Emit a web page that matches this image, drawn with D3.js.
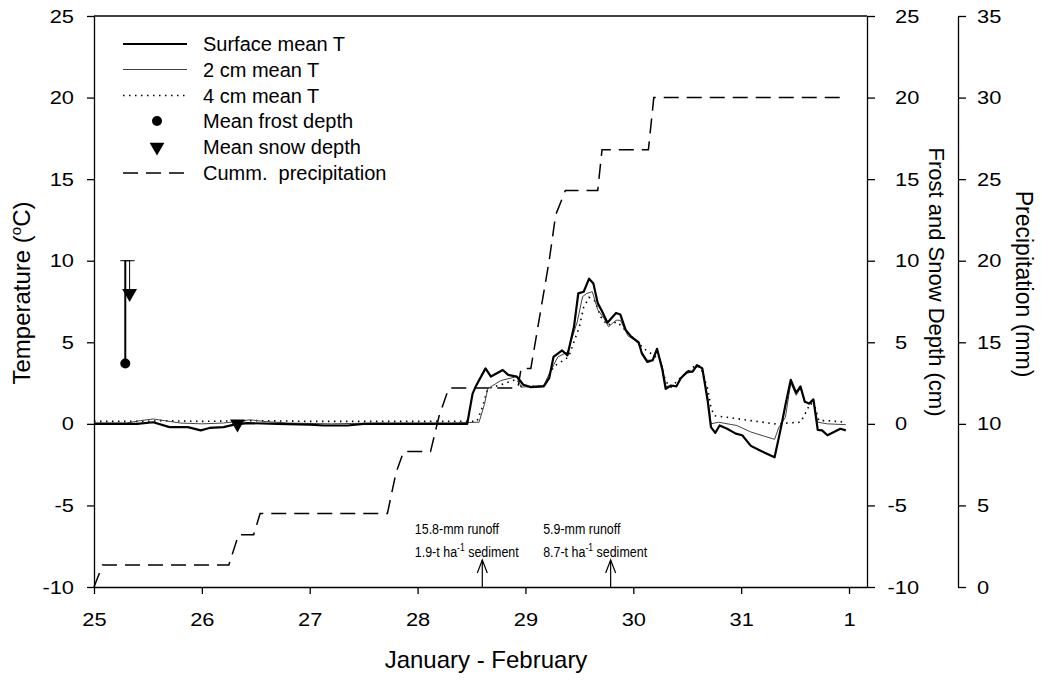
<!DOCTYPE html>
<html>
<head>
<meta charset="utf-8">
<script src="https://cdn.jsdelivr.net/npm/d3@7"></script>
<style>
  body { margin: 0; background: #fff; }
  svg { display: block; }
  text { font-family: Arial, "Liberation Sans", Helvetica, sans-serif; fill: #000; }
</style>
</head>
<body>
<svg id="chart" width="1041" height="688"></svg>
<script>
// Time is expressed as fractional day-of-January (32 = 1 February).
const dayTicks = [25, 26, 27, 28, 29, 30, 31, 32];
const dayTickLabels = ["25", "26", "27", "28", "29", "30", "31", "1"];
const tempTicks = [-10, -5, 0, 5, 10, 15, 20, 25];
const depthTicks = [-10, -5, 0, 5, 10, 15, 20, 25];
const precipTicks = [0, 5, 10, 15, 20, 25, 30, 35];

// Surface mean temperature (°C)
const surfaceDay = [25.00, 25.20, 25.40, 25.55, 25.70, 25.87, 25.99, 26.07, 26.20, 26.30, 26.42, 26.70, 27.00, 27.13, 27.35, 27.50, 27.80, 28.10, 28.46,
  28.51, 28.54, 28.63, 28.68, 28.79, 28.84, 28.92, 28.98, 29.05, 29.17, 29.22, 29.26, 29.34, 29.39, 29.45, 29.49, 29.54, 29.59, 29.63, 29.67,
  29.71, 29.76, 29.84, 29.88, 29.93, 29.98, 30.05, 30.08, 30.13, 30.18, 30.22, 30.27, 30.30, 30.35, 30.40, 30.44, 30.50, 30.55, 30.59, 30.64,
  30.69, 30.72, 30.76, 30.80, 30.87, 30.95, 31.01, 31.09, 31.18, 31.31, 31.37, 31.41, 31.46, 31.51, 31.55, 31.59, 31.63, 31.67, 31.71, 31.75,
  31.80, 31.86, 31.92, 31.97];
const surfaceT = [0.0, 0.0, 0.0, 0.1, -0.2, -0.2, -0.4, -0.25, -0.2, -0.05, 0.05, 0.0, -0.05, -0.1, -0.1, 0.0, 0.0, 0.0, 0.0,
  1.85, 2.3, 3.4, 2.9, 3.3, 3.0, 2.9, 2.4, 2.25, 2.3, 2.8, 4.1, 4.5, 4.2, 5.95, 8.0, 8.1, 8.9, 8.6, 7.4,
  6.9, 6.2, 6.8, 6.7, 5.75, 5.35, 5.0, 4.3, 3.8, 3.9, 4.6, 3.3, 2.15, 2.35, 2.3, 2.8, 3.2, 3.2, 3.6, 3.4,
  1.4, -0.2, -0.55, -0.1, -0.3, -0.6, -0.7, -1.35, -1.65, -2.05, -0.2, 1.15, 2.7, 1.9, 2.3, 1.35, 1.25, 1.5, -0.37, -0.4,
  -0.7, -0.5, -0.3, -0.4];

// 2 cm mean temperature (°C)
const twoCmDay = [25.00, 25.30, 25.43, 25.55, 25.65, 25.80, 26.00, 26.20, 26.45, 26.57, 26.80, 27.20, 27.60, 28.00, 28.30, 28.57,
  28.62, 28.65, 28.77, 28.92, 28.96, 29.17, 29.23, 29.30, 29.39, 29.48, 29.53, 29.57, 29.62, 29.67, 29.73, 29.77, 29.84, 29.88,
  29.95, 30.04, 30.08, 30.13, 30.18, 30.22, 30.27, 30.30, 30.35, 30.40, 30.44, 30.50, 30.55, 30.59, 30.64, 30.69, 30.72, 30.79,
  30.96, 31.09, 31.31, 31.35, 31.41, 31.46, 31.51, 31.55, 31.59, 31.63, 31.67, 31.71, 31.80, 31.97];
const twoCmT = [0.05, 0.05, 0.2, 0.3, 0.2, 0.05, 0.0, 0.05, 0.25, 0.15, 0.05, 0.0, 0.05, 0.05, 0.05, 0.1,
  1.2, 2.15, 2.65, 2.9, 2.25, 2.35, 3.2, 4.1, 4.4, 6.25, 7.8, 8.0, 8.1, 7.0, 6.45, 5.95, 6.35, 6.35,
  5.4, 5.0, 4.4, 3.9, 3.9, 4.5, 3.5, 2.3, 2.3, 2.3, 2.8, 3.1, 3.2, 3.5, 3.4, 1.6, 0.0, 0.1,
  -0.1, -0.5, -0.95, -0.2, 0.4, 2.5, 1.75, 2.2, 1.4, 1.2, 1.4, 0.1, 0.0, -0.05];

// 4 cm mean temperature (°C)
const fourCmDay = [25.00, 25.50, 25.60, 26.00, 26.50, 27.00, 27.50, 28.00, 28.55, 28.60, 28.65, 28.80, 28.92, 28.96, 29.17, 29.26,
  29.40, 29.50, 29.54, 29.59, 29.64, 29.70, 29.76, 29.85, 29.91, 30.04, 30.10, 30.19, 30.25, 30.30, 30.35, 30.44, 30.56, 30.62,
  30.69, 30.72, 30.75, 30.87, 31.09, 31.31, 31.43, 31.55, 31.60, 31.64, 31.68, 31.72, 31.80, 31.97];
const fourCmT = [0.15, 0.15, 0.2, 0.15, 0.2, 0.15, 0.15, 0.15, 0.15, 1.0, 2.15, 2.45, 2.75, 2.3, 2.3, 3.5,
  4.1, 5.95, 7.15, 7.75, 7.55, 6.55, 6.05, 6.25, 5.85, 5.0, 4.6, 4.2, 3.9, 2.6, 2.25, 2.85, 3.5, 3.55,
  2.15, 1.0, 0.5, 0.4, 0.2, 0.0, 0.05, 0.1, 0.7, 1.25, 1.15, 0.2, 0.2, 0.1];

// Cumulative precipitation (mm)
const precipDay = [25.00, 25.08, 26.25, 26.34, 26.48, 26.54, 27.72, 27.80, 27.87, 28.12, 28.20, 28.29, 28.93, 28.96, 29.05,
  29.22, 29.28, 29.37, 29.67, 29.71, 30.14, 30.19, 31.93];
const precipMm = [0, 1.35, 1.35, 3.2, 3.2, 4.5, 4.5, 7.0, 8.3, 8.3, 10.5, 12.2, 12.2, 13.4, 13.4,
  20.0, 22.8, 24.3, 24.3, 26.8, 26.8, 30.0, 30.0];

// Frost and snow depth (cm) with upper error bars
const frostDay = [25.29];
const frostDepth = [3.7];
const frostErr = [6.3];
const snowDay = [25.33, 26.33];
const snowDepth = [8.0, 0.0];
const snowErr = [2.0, 0.0];

// Runoff events
const eventDay = [28.60, 29.79];
const eventRunoff = ["15.8-mm runoff", "5.9-mm runoff"];
const eventSediment = ["1.9", "8.7"];

const legendLabels = ["Surface mean T", "2 cm mean T", "4 cm mean T", "Mean frost depth", "Mean snow depth", "Cumm.  precipitation"];

// ---------------------------------------------------------------
(function draw() {
  const svg = d3.select("#chart");
  const pLeft = 94, pRight = 867, pTop = 16, pBottom = 587;

  const x = d3.scaleLinear().domain([25, 32.1667]).range([pLeft, pRight]);
  const yT = d3.scaleLinear().domain([-10, 25]).range([pBottom, pTop]);
  const yD = d3.scaleLinear().domain([-10, 25]).range([pBottom, pTop]);
  const yP = d3.scaleLinear().domain([0, 35]).range([pBottom, pTop]);

  const axisStroke = 1.3;
  const tickFont = 19;
  const tickStretch = 1.15;
  const plain = d => String(d);   // hyphen-minus for negatives

  function styleAxis(g) {
    g.select(".domain").attr("stroke", "#000").attr("stroke-width", axisStroke);
    g.selectAll(".tick line").attr("stroke", "#000").attr("stroke-width", axisStroke);
    g.selectAll(".tick text").attr("font-size", tickFont).attr("font-family", "Arial, 'Liberation Sans', sans-serif");
  }

  // Bottom axis
  const gx = svg.append("g").attr("transform", `translate(0,${pBottom})`)
    .call(d3.axisBottom(x).tickValues(dayTicks).tickFormat((d, i) => dayTickLabels[i]).tickSize(7).tickSizeOuter(0).tickPadding(19));
  styleAxis(gx);
  gx.selectAll(".tick text").attr("transform", `scale(${tickStretch},1)`);

  // Left temperature axis
  const gyT = svg.append("g").attr("transform", `translate(${pLeft},0)`)
    .call(d3.axisLeft(yT).tickValues(tempTicks).tickFormat(plain).tickSize(7).tickSizeOuter(0).tickPadding(13));
  styleAxis(gyT);
  gyT.selectAll(".tick text").each(function () {
    const t = d3.select(this);
    const x0 = +t.attr("x");
    t.attr("x", 0).attr("transform", `translate(${x0},0) scale(${tickStretch},1)`);
  });

  // Top frame line
  svg.append("line").attr("x1", pLeft).attr("x2", pRight).attr("y1", pTop).attr("y2", pTop)
    .attr("stroke", "#000").attr("stroke-width", axisStroke);

  // Right depth axis
  const gyD = svg.append("g").attr("transform", `translate(${pRight},0)`)
    .call(d3.axisRight(yD).tickValues(depthTicks).tickFormat(plain).tickSize(8).tickSizeOuter(0).tickPadding(20));
  styleAxis(gyD);
  gyD.selectAll(".tick text").each(function (d) {
    const t = d3.select(this);
    const x0 = +t.attr("x") - (d < 0 ? 7.5 : 0);
    t.attr("x", 0).attr("transform", `translate(${x0},0) scale(${tickStretch},1)`);
  });

  // Outer precipitation axis
  const precipX = 958;
  const gyP = svg.append("g").attr("transform", `translate(${precipX},0)`)
    .call(d3.axisRight(yP).tickValues(precipTicks).tickFormat(plain).tickSize(8).tickSizeOuter(0).tickPadding(11));
  styleAxis(gyP);
  gyP.selectAll(".tick text").each(function () {
    const t = d3.select(this);
    const x0 = +t.attr("x");
    t.attr("x", 0).attr("transform", `translate(${x0},0) scale(${tickStretch},1)`);
  });

  // Axis titles
  svg.append("text").attr("text-anchor", "middle").attr("font-size", 24)
    .attr("x", 486).attr("y", 668).text("January - February");

  const tTitle = svg.append("text").attr("text-anchor", "middle").attr("font-size", 24)
    .attr("transform", "translate(30,293) rotate(-90)");
  tTitle.append("tspan").text("Temperature (");
  tTitle.append("tspan").attr("font-size", 15).attr("dy", -9).text("o");
  tTitle.append("tspan").attr("dy", 9).text("C)");

  svg.append("text").attr("text-anchor", "middle").attr("font-size", 22)
    .attr("transform", "translate(929,282) rotate(90)").text("Frost and Snow Depth (cm)");
  svg.append("text").attr("text-anchor", "middle").attr("font-size", 23)
    .attr("transform", "translate(1016,284) rotate(90)").text("Precipitation (mm)");

  // Series
  const plot = svg.append("g");
  const lineGen = (ys) => d3.line().x(d => x(d[0])).y(d => ys(d[1]));

  plot.append("path").datum(d3.zip(precipDay, precipMm))
    .attr("fill", "none").attr("stroke", "#000").attr("stroke-width", 1.5)
    .attr("stroke-dasharray", "15,8").attr("d", lineGen(yP));

  plot.append("path").datum(d3.zip(fourCmDay, fourCmT))
    .attr("fill", "none").attr("stroke", "#000").attr("stroke-width", 1.6)
    .attr("stroke-dasharray", "1.5,4.5").attr("d", lineGen(yT));

  plot.append("path").datum(d3.zip(twoCmDay, twoCmT))
    .attr("fill", "none").attr("stroke", "#444").attr("stroke-width", 1)
    .attr("d", lineGen(yT));

  plot.append("path").datum(d3.zip(surfaceDay, surfaceT))
    .attr("fill", "none").attr("stroke", "#000").attr("stroke-width", 2.2)
    .attr("stroke-linejoin", "round").attr("d", lineGen(yT));

  // Error bars (upper) for frost and snow depth
  const capHalf = 5;
  frostDay.forEach((d, i) => {
    if (frostErr[i] > 0) {
      const cx = x(d), y0 = yD(frostDepth[i]), y1 = yD(frostDepth[i] + frostErr[i]);
      plot.append("line").attr("x1", cx).attr("x2", cx).attr("y1", y0).attr("y2", y1).attr("stroke", "#000").attr("stroke-width", 2);
      plot.append("line").attr("x1", cx - capHalf).attr("x2", cx + capHalf).attr("y1", y1).attr("y2", y1).attr("stroke", "#000").attr("stroke-width", 1);
    }
  });
  snowDay.forEach((d, i) => {
    if (snowErr[i] > 0) {
      const cx = x(d), y0 = yD(snowDepth[i]), y1 = yD(snowDepth[i] + snowErr[i]);
      plot.append("line").attr("x1", cx).attr("x2", cx).attr("y1", y0).attr("y2", y1).attr("stroke", "#000").attr("stroke-width", 1);
      plot.append("line").attr("x1", cx - capHalf).attr("x2", cx + capHalf).attr("y1", y1).attr("y2", y1).attr("stroke", "#000").attr("stroke-width", 1);
    }
  });

  const triangle = d3.symbol().type(d3.symbolTriangle).size(95);
  frostDay.forEach((d, i) => {
    plot.append("circle").attr("cx", x(d)).attr("cy", yD(frostDepth[i])).attr("r", 5).attr("fill", "#000");
  });
  snowDay.forEach((d, i) => {
    plot.append("path").attr("d", triangle())
      .attr("transform", `translate(${x(d)},${yD(snowDepth[i])}) rotate(180)`).attr("fill", "#000");
  });

  // Runoff event arrows and notes
  eventDay.forEach((d, i) => {
    const ax = x(d);
    plot.append("line").attr("x1", ax).attr("x2", ax).attr("y1", pBottom).attr("y2", 560).attr("stroke", "#000").attr("stroke-width", 1.2);
    plot.append("path").attr("d", `M${ax - 5},${573}L${ax},${560}L${ax + 5},${573}`)
      .attr("fill", "none").attr("stroke", "#000").attr("stroke-width", 1.2);
    const tx = ax - 67.5;
    svg.append("text").attr("font-size", 14.5).attr("transform", `translate(${tx},534) scale(0.86,1)`).text(eventRunoff[i]);
    const s = svg.append("text").attr("font-size", 14.5).attr("transform", `translate(${tx},556.5) scale(0.86,1)`);
    s.append("tspan").text(eventSediment[i] + "-t ha");
    s.append("tspan").attr("font-size", 10).attr("dy", -6).text("-1");
    s.append("tspan").attr("dy", 6).text(" sediment");
  });

  // Legend
  const legendRows = [44, 69.5, 95.5, 121, 147, 173];
  const lg = svg.append("g");
  const lx1 = 123, lx2 = 187, lcx = 157, ltx = 203;
  lg.append("line").attr("x1", lx1).attr("x2", lx2).attr("y1", legendRows[0]).attr("y2", legendRows[0]).attr("stroke", "#000").attr("stroke-width", 2.2);
  lg.append("line").attr("x1", lx1).attr("x2", lx2).attr("y1", legendRows[1]).attr("y2", legendRows[1]).attr("stroke", "#444").attr("stroke-width", 1);
  lg.append("line").attr("x1", lx1).attr("x2", lx2).attr("y1", legendRows[2]).attr("y2", legendRows[2]).attr("stroke", "#000").attr("stroke-width", 1.6).attr("stroke-dasharray", "1.5,4.5");
  lg.append("circle").attr("cx", lcx).attr("cy", legendRows[3]).attr("r", 5).attr("fill", "#000");
  lg.append("path").attr("d", triangle()).attr("transform", `translate(${lcx},${legendRows[4]}) rotate(180)`).attr("fill", "#000");
  lg.append("line").attr("x1", lx1).attr("x2", lx2).attr("y1", legendRows[5]).attr("y2", legendRows[5]).attr("stroke", "#000").attr("stroke-width", 1.5).attr("stroke-dasharray", "15,8");
  legendLabels.forEach((t, i) => {
    lg.append("text").attr("x", ltx).attr("y", legendRows[i]).attr("dy", "0.35em").attr("font-size", 20)
      .style("white-space", "pre").text(t);
  });
})();
</script>
</body>
</html>
